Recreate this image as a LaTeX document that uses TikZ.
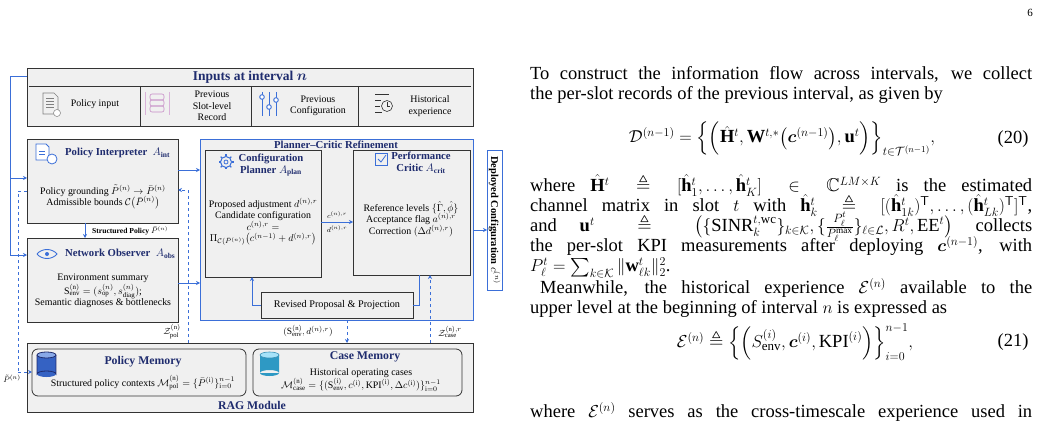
\documentclass[tikz,border=0pt]{standalone}
\usepackage{amsmath,amssymb}
\usepackage{fontspec}
\setmainfont{Liberation Serif}
\usetikzlibrary{arrows.meta,shapes.geometric}
\definecolor{navy}{HTML}{1F2C6E}
\definecolor{lblue}{HTML}{3B6FD8}
\definecolor{boxgray}{HTML}{F0F0F0}
\definecolor{edge}{HTML}{333333}
\tikzset{
  panel/.style={draw=edge,line width=0.9pt,fill=boxgray},
  agent/.style={draw=edge,line width=0.9pt,fill=boxgray},
  flow/.style={draw=lblue,line width=0.8pt,-{Stealth[length=4pt,width=4pt]}},
  dflow/.style={flow,dashed},
  ttl/.style={font=\fontsize{10.7}{12}\selectfont\bfseries,text=navy,align=center,inner sep=1pt},
  body/.style={font=\fontsize{9.9}{11.5}\selectfont,align=center,inner sep=1pt},
  lbl/.style={font=\fontsize{8.5}{10}\selectfont,inner sep=1pt},
  para/.style={anchor=north west,text width=502pt,inner sep=0pt,align=justify,font=\fontsize{18.5}{20}\selectfont},
}
\begin{document}
\begin{tikzpicture}[x=1pt,y=-1pt]
\useasboundingbox (0,0) rectangle (1040,438);
\node at (1030,13) {\fontsize{11}{12}\selectfont 6};
% ---------- Inputs
\draw[panel] (27,68) rectangle (473,126);
\draw[edge,line width=0.6pt] (29,86) -- (471,86);
\foreach \x in {140,251,358} \draw[edge,line width=0.6pt] (\x,86) -- (\x,126);
\node[ttl,font=\fontsize{13.5}{14}\selectfont\bfseries] (intitle) at (250,77) {Inputs at interval $\boldsymbol{n}$};
\node[body] (pin) at (95,104) {Policy input};
\node[body] (psr) at (212,106) {Previous\\Slot-level\\Record};
\node[body] (pcf) at (318,106) {Previous\\Configuration};
\node[body] (hex) at (430,106) {Historical\\experience};
% icons
\draw[gray,line width=0.6pt] (43,93) -- (54,93) -- (58,97) -- (58,114) -- (43,114) -- cycle;
\foreach \y in {98,101,104,107} \draw[gray,line width=0.5pt] (46,\y) -- (54,\y);
\draw[gray,line width=0.5pt,fill=white] (57,113) circle (3.5);
\foreach \y in {94,100,106} \draw[violet!45,line width=0.6pt,rounded corners=2] (150,\y) rectangle (164,\y+6);
\draw[violet!30,line width=0.5pt] (145,92) -- (145,115) (169,92) -- (169,115);
\foreach \x/\c in {262/97,269/107,276/100} {\draw[lblue,line width=1pt] (\x,92) -- (\x,116); \draw[lblue,line width=0.9pt,fill=white] (\x,\c) circle (2.3);}
\draw[edge,line width=0.5pt] (375,94) -- (389,94) (375,100) -- (381,100) (375,106) -- (380,106) (375,112) -- (382,112);
\draw[edge,line width=0.6pt] (387,106) circle (5.5);
\draw[edge,line width=0.5pt] (387,102.5) -- (387,106) -- (389.5,106);
% ---------- left blue feedback
\draw[lblue,line width=0.8pt] (27,76) -- (10,76) -- (10,255);
\draw[flow] (10,178) -- (27,178);
\draw[flow] (10,255) -- (27,255);
% ---------- Policy Interpreter
\draw[agent] (27,139) rectangle (178,223);
\draw[lblue,line width=0.8pt,fill=white] (36,144) -- (46,144) -- (49,147) -- (49,160) -- (36,160) -- cycle;
\draw[lblue,line width=0.8pt,fill=white] (52,159) circle (5);
\draw[lblue,line width=0.5pt] (39,151) -- (45,151) (39,154) -- (45,154);
\node[ttl,anchor=west] (pititle) at (64,153) {Policy Interpreter \ $A_{\text{int}}$};
\node[body] (pibody) at (103,197) {Policy grounding $\tilde{P}^{(n)} \to \bar{P}^{(n)}$\\Admissible bounds $\mathcal{C}\big(\bar{P}^{(n)}\big)$};
% structured policy
\draw[flow] (85,223) -- (85,238);
\node[font=\fontsize{7.6}{9}\selectfont\bfseries,anchor=west,inner sep=1pt] (sp) at (91,231) {Structured Policy $\bar{P}^{(n)}$};
% ---------- Network Observer
\draw[agent] (27,238) rectangle (178,322);
\draw[lblue,line width=0.9pt] (37,254) .. controls (42,248) and (52,248) .. (57,254) .. controls (52,260) and (42,260) .. (37,254);
\fill[lblue] (47,254) circle (2);
\node[ttl,anchor=west] (notitle) at (64,254) {Network Observer \ $A_{\text{obs}}$};
\node[body] (nobody) at (103,291) {Environment summary\\$\mathrm{S}^{(\mathrm{n})}_{\mathrm{env}}=(s^{(n)}_{\mathrm{op}},s^{(n)}_{\mathrm{diag}})$;\\Semantic diagnoses \& bottlenecks};
% ---------- Planner-Critic
\draw[lblue,line width=0.9pt,fill=boxgray] (200,139) rectangle (473,320);
\node[ttl] (pctitle) at (336,144.5) {Planner--Critic Refinement};
\draw[flow] (178,170) -- (200,170);
\draw[flow] (178,283) -- (200,283);
\draw[agent] (205,150) rectangle (321,277);
\draw[lblue,line width=1pt] (226,162) circle (5.5);
\draw[lblue,line width=0.8pt] (226,162) circle (2);
\foreach \a in {0,45,...,315} \draw[lblue,line width=1.2pt] (226,162) ++(\a:5.5) -- ++(\a:2);
\node[ttl] (cptitle) at (271,165) {Configuration\\Planner $A_{\text{plan}}$};
\node[body] (cpbody) at (263,222) {Proposed adjustment $d^{(n),r}$\\Candidate configuration\\$c^{(n),r}=$\\$\Pi_{\mathcal{C}(\bar{P}^{(n)})}\big(c^{(n-1)}+d^{(n),r}\big)$};
\draw[agent] (353,150) rectangle (470,275);
\draw[lblue,line width=0.8pt] (375,153) rectangle (387,165);
\draw[lblue,line width=0.8pt] (378,159) -- (381,162) -- (386,155);
\node[ttl] (crtitle) at (421,163) {Performance\\Critic $A_{\text{crit}}$};
\node[body] (crbody) at (411,219) {Reference levels $\{\hat{\Gamma},\hat{\phi}\}$\\Acceptance flag $a^{(n),r}$\\Correction $(\Delta d^{(n),r})$};
\draw[flow] (321,222) -- (353,222);
\node[lbl,font=\fontsize{7.5}{8}\selectfont] at (337,215) {$c^{(n),r}$};
\node[lbl,font=\fontsize{7.5}{8}\selectfont] at (337,229) {$d^{(n),r}$};
\draw[agent] (261,292) rectangle (413,318);
\node[body,font=\fontsize{10.2}{11}\selectfont] (rev) at (337,305) {Revised Proposal \& Projection};
\draw[lblue,line width=0.8pt] (419,275) -- (419,305) -- (413,305);
\draw[flow] (261,305) -- (252,305) -- (252,277);
% ---------- Deployed
\draw[lblue,line width=0.9pt,fill=white] (487,150) rectangle (502,290);
\node[rotate=-90,font=\fontsize{10.5}{11}\selectfont\bfseries,inner sep=0pt] (dep) at (494.5,220) {Deployed Configuration $c^{(n)}$};
\draw[flow] (473,230) -- (487,230);
% ---------- RAG
\draw[panel] (27,343) rectangle (473,412);
\node[ttl,font=\fontsize{11.8}{12}\selectfont\bfseries] (ragt) at (252,405) {RAG Module};
\draw[edge,line width=0.8pt,fill=boxgray,rounded corners=6] (32,349) rectangle (246,396);
\draw[edge,line width=0.8pt,fill=boxgray,rounded corners=6] (253,349) rectangle (462,396);
\fill[lblue!80!navy] (37,355) rectangle (56,374);
\fill[lblue!80!navy] (46.5,374) ellipse (9.5 and 3);
\draw[navy,line width=0.8pt] (37,355)--(37,374) arc (180:360:9.5 and 3) -- (56,355);
\draw[navy,line width=0.8pt,fill=lblue!60!white] (46.5,355) ellipse (9.5 and 3);
\fill[cyan!55!teal] (260,355) rectangle (279,373) (269.5,373) ellipse (9.5 and 3);
\draw[cyan!40!teal,line width=0.6pt,fill=cyan!35] (269.5,355) ellipse (9.5 and 3);
\node[ttl,font=\fontsize{11.8}{12}\selectfont\bfseries] (pmt) at (143,362) {Policy Memory};
\node[body] (pmb) at (143,383) {Structured policy contexts $\mathcal{M}^{(\mathrm{n})}_{\mathrm{pol}}=\{\bar{P}^{(\mathrm{i})}\}^{n-1}_{\mathrm{i}=0}$};
\node[ttl,font=\fontsize{11.8}{12}\selectfont\bfseries] (cmt) at (365,357) {Case Memory};
\node[body] (cmb) at (361,380) {Historical operating cases\\$\mathcal{M}^{(\mathrm{n})}_{\mathrm{case}}=\{(\mathrm{S}^{(\mathrm{i})}_{\mathrm{env}},c^{(\mathrm{i})},\mathrm{KPI}^{(\mathrm{i})},\Delta c^{(\mathrm{i})})\}^{n-1}_{\mathrm{i}=0}$};
% ---------- dashed connectors
\draw[lblue,line width=0.8pt,dashed] (27,191) -- (18,191) -- (18,372);
\draw[dflow] (18,372) -- (32,372);
\node[lbl] at (12,379) {$\tilde{P}^{(n)}$};
\draw[dflow] (188,343) -- (188,190) -- (178,190);
\node[lbl,font=\fontsize{9.5}{10}\selectfont] at (172,332) {$\mathcal{Z}^{(\mathrm{n})}_{\mathrm{pol}}$};
\draw[dflow] (347,320) -- (347,343);
\node[lbl,font=\fontsize{9.5}{10}\selectfont] at (308,331) {$(\mathrm{S}^{(\mathrm{n})}_{\mathrm{env}},d^{(n),r})$};
\draw[dflow] (430,343) -- (430,275);
\node[lbl,font=\fontsize{9.5}{10}\selectfont] at (450,332) {$\mathcal{Z}^{(\mathrm{n}),r}_{\mathrm{case}}$};
% ---------- right column text
\node[para] (p1) at (530,66) {\lineskiplimit=-20pt To construct the information flow across intervals, we collect\linebreak the per-slot records of the previous interval, as given by};
\node[font=\fontsize{18.5}{20}\selectfont] (e20) at (782,139) {$\mathcal{D}^{(n-1)}=\Big\{\Big(\hat{\mathbf{H}}^{t},\mathbf{W}^{t,*}\big(\boldsymbol{c}^{(n-1)}\big),\mathbf{u}^{t}\Big)\Big\}_{t\in\mathcal{T}^{(n-1)}},$};
\node[font=\fontsize{18.5}{20}\selectfont,anchor=east] at (1032,139) {(20)};
\node[para] (p2) at (530,174) {\lineskiplimit=-20pt where $\hat{\mathbf{H}}^{t}\triangleq[\hat{\mathbf{h}}^{t}_{1},\ldots,\hat{\mathbf{h}}^{t}_{K}]\in\mathbb{C}^{LM\times K}$ is the estimated\linebreak channel matrix in slot $t$ with $\hat{\mathbf{h}}^{t}_{k}\triangleq[(\hat{\mathbf{h}}^{t}_{1k})^{\mathsf{T}},\ldots,(\hat{\mathbf{h}}^{t}_{Lk})^{\mathsf{T}}]^{\mathsf{T}}$,\linebreak and $\mathbf{u}^{t}\triangleq\big(\{\mathrm{SINR}^{t,\mathrm{wc}}_{k}\}_{k\in\mathcal{K}},\{\frac{P^{t}_{\ell}}{P^{\max}_{\ell}}\}_{\ell\in\mathcal{L}},R^{t},\mathrm{EE}^{t}\big)$ collects\linebreak the per-slot KPI measurements after deploying $\boldsymbol{c}^{(n-1)}$, with\linebreak $P^{t}_{\ell}=\sum_{k\in\mathcal{K}}\|\mathbf{w}^{t}_{\ell k}\|^{2}_{2}$.\par
\hspace*{10pt}Meanwhile, the historical experience $\mathcal{E}^{(n)}$ available to the\linebreak upper level at the beginning of interval $n$ is expressed as};
\node[font=\fontsize{18.5}{20}\selectfont] (e21) at (795,342) {$\mathcal{E}^{(n)}\triangleq\Big\{\Big(S^{(i)}_{\mathrm{env}},\boldsymbol{c}^{(i)},\mathrm{KPI}^{(i)}\Big)\Big\}^{n-1}_{i=0},$};
\node[font=\fontsize{18.5}{20}\selectfont,anchor=east] at (1032,342) {(21)};
\node[para,anchor=south west] (p3) at (530,438) {where $\mathcal{E}^{(n)}$ serves as the cross-timescale experience used in\linebreak};
\end{tikzpicture}
\end{document}
